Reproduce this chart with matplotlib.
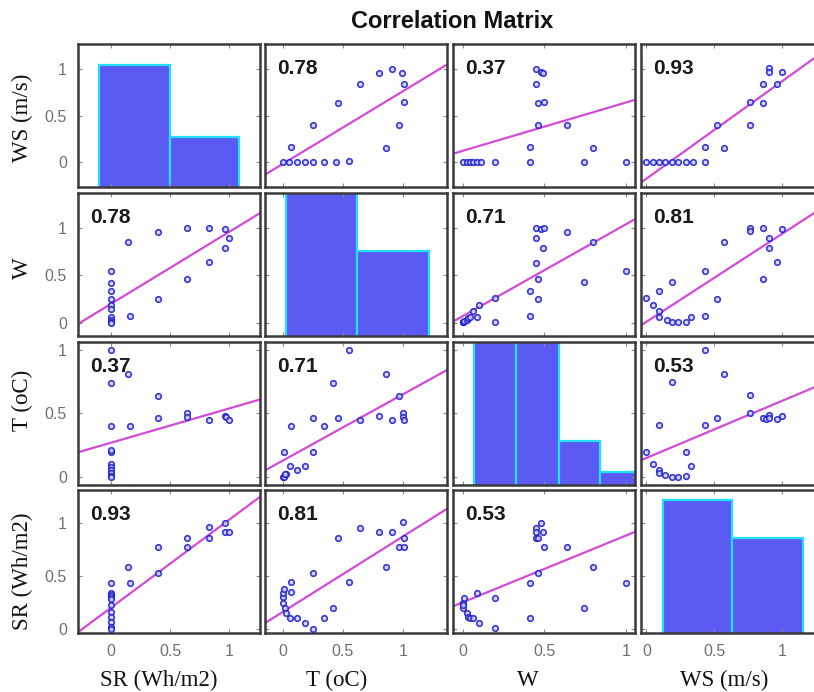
import numpy as np
import matplotlib
matplotlib.use("Agg")
import matplotlib.pyplot as plt

# Nazwy zmiennych (wiersze od góry, kolumny od lewej)
row_names = ["WS (m/s)", "W", "T (oC)", "SR (Wh/m2)"]
col_names = ["SR (Wh/m2)", "T (oC)", "W", "WS (m/s)"]

# --- dane punktowe ---
# wiersz WS
ws_t_x = [0, 0.05, 0.12, 0.18, 0.25, 0.34, 0.44, 0.55, 0.07, 0.25, 0.46, 0.64, 0.80, 0.91, 0.99, 1.01, 1.01, 0.97, 0.86]
ws_t_y = [0, 0, 0, 0, 0, 0, 0, 0.01, 0.16, 0.40, 0.64, 0.84, 0.96, 1.0, 0.96, 0.84, 0.65, 0.40, 0.15]
ws_w_x = [0, 0.025, 0.045, 0.06, 0.085, 0.11, 0.20, 0.41, 0.41, 0.45, 0.48, 0.49, 0.45, 0.46, 0.50, 0.46, 0.64, 0.74, 0.80, 1.0]
ws_w_y = [0, 0, 0, 0, 0, 0, 0, 0, 0.16, 1.0, 0.97, 0.96, 0.84, 0.64, 0.65, 0.40, 0.40, 0, 0.15, 0]
ws_ws_x = [0, 0.045, 0.09, 0.14, 0.19, 0.235, 0.29, 0.34, 0.43, 0.43, 0.57, 0.52, 0.76, 0.76, 0.86, 0.86, 0.90, 0.90, 0.96, 1.0]
ws_ws_y = [0, 0, 0, 0, 0, 0, 0, 0, 0, 0.16, 0.15, 0.40, 0.40, 0.65, 0.64, 0.84, 1.01, 0.97, 0.84, 0.97]

# wiersz W
w_sr_x = [0, 0, 0, 0, 0, 0, 0, 0, 0, 0, 0.145, 0.16, 0.40, 0.40, 0.64, 0.64, 0.83, 0.83, 0.96, 0.96, 1.0]
w_sr_y = [0.55, 0.42, 0.34, 0.25, 0.19, 0.14, 0.06, 0.03, 0.01, 0, 0.85, 0.07, 0.96, 0.25, 0.46, 1.0, 1.0, 0.64, 0.99, 0.79, 0.89]
w_w_x = [0, 0, 0.01, 0.025, 0.03, 0.045, 0.06, 0.09, 0.10, 0.20, 0.20, 0.41, 0.41, 0.46, 0.46, 0.45, 0.49, 0.45, 0.45, 0.48, 0.50, 0.64, 0.80, 0.74, 1.0]
w_w_y = [0.01, 0.01, 0.02, 0.03, 0.05, 0.06, 0.12, 0.06, 0.19, 0.01, 0.26, 0.07, 0.34, 0.25, 0.46, 0.63, 0.79, 0.89, 1.0, 0.99, 1.0, 0.96, 0.85, 0.43, 0.55]
w_ws_x = [0, 0.045, 0.095, 0.095, 0.095, 0.15, 0.19, 0.235, 0.29, 0.33, 0.19, 0.43, 0.43, 0.52, 0.57, 0.76, 0.76, 0.86, 0.90, 0.90, 0.96, 0.86, 1.0]
w_ws_y = [0.26, 0.19, 0.12, 0.06, 0.34, 0.03, 0.01, 0.01, 0.01, 0.06, 0.43, 0.07, 0.55, 0.25, 0.85, 1.0, 0.97, 1.0, 0.89, 0.79, 0.64, 0.46, 0.99]

# wiersz T
t_sr_x = [0, 0, 0, 0, 0, 0, 0, 0, 0, 0, 0, 0.145, 0.16, 0.40, 0.40, 0.64, 0.64, 0.83, 0.96, 0.97, 1.0]
t_sr_y = [1.0, 0.74, 0.40, 0.20, 0.21, 0.10, 0.08, 0.055, 0.03, 0.01, 0, 0.81, 0.40, 0.64, 0.465, 0.50, 0.47, 0.45, 0.48, 0.47, 0.45]
t_t_x = [0, 0.01, 0.025, 0.02, 0.06, 0.12, 0.18, 0.07, 0.01, 0.25, 0.25, 0.34, 0.42, 0.46, 0.55, 0.64, 0.80, 0.86, 0.91, 0.97, 1.0, 1.0, 1.01]
t_t_y = [0, 0, 0.02, 0.025, 0.09, 0.055, 0.09, 0.40, 0.20, 0.465, 0.20, 0.40, 0.74, 0.465, 1.0, 0.45, 0.48, 0.81, 0.45, 0.64, 0.50, 0.47, 0.45]
t_ws_x = [0, 0.045, 0.095, 0.095, 0.14, 0.19, 0.235, 0.29, 0.33, 0.29, 0.095, 0.19, 0.43, 0.43, 0.52, 0.57, 0.76, 0.76, 0.86, 0.88, 0.90, 0.90, 0.96, 1.0]
t_ws_y = [0.20, 0.10, 0.055, 0.03, 0.015, 0, 0, 0.01, 0.09, 0.20, 0.41, 0.75, 1.0, 0.41, 0.465, 0.81, 0.645, 0.50, 0.465, 0.46, 0.49, 0.465, 0.46, 0.48]

# wiersz SR
sr_sr_x = [0, 0, 0, 0, 0, 0, 0, 0, 0, 0, 0, 0.145, 0.16, 0.40, 0.40, 0.64, 0.64, 0.83, 0.83, 0.96, 0.96, 1.0]
sr_sr_y = [0.43, 0.34, 0.32, 0.30, 0.28, 0.22, 0.16, 0.11, 0.065, 0.02, 0, 0.58, 0.43, 0.77, 0.53, 0.86, 0.77, 0.96, 0.86, 1.0, 0.91, 0.91]
sr_t_x = [0, 0, 0, 0.01, 0.02, 0.025, 0.06, 0.12, 0.07, 0.07, 0.18, 0.25, 0.25, 0.34, 0.42, 0.55, 0.46, 0.64, 0.80, 0.91, 0.86, 1.0, 0.97, 1.01, 1.01]
sr_t_y = [0.24, 0.30, 0.34, 0.38, 0.20, 0.15, 0.10, 0.10, 0.345, 0.44, 0.055, 0, 0.53, 0.10, 0.20, 0.44, 0.86, 0.95, 0.91, 0.91, 0.58, 1.01, 0.77, 0.77, 0.86]
sr_w_x = [0, 0, 0.01, 0, 0.025, 0.03, 0.045, 0.06, 0.10, 0.09, 0.20, 0.20, 0.41, 0.41, 0.46, 0.45, 0.45, 0.45, 0.48, 0.49, 0.46, 0.50, 0.64, 0.80, 0.74, 1.0]
sr_w_y = [0.20, 0.24, 0.29, 0.22, 0.15, 0.11, 0.10, 0.10, 0.055, 0.34, 0.29, 0.01, 0.10, 0.43, 0.53, 0.95, 0.91, 0.86, 1.0, 0.91, 0.86, 0.77, 0.77, 0.58, 0.20, 0.43]

# współczynniki korelacji (tekst) i proste regresji (wyraz wolny, nachylenie)
corr_labels = ["0.78", "0.37", "0.93", "0.78", "0.71", "0.81", "0.37", "0.71", "0.53", "0.93", "0.81", "0.53"]
fit_intercepts = [-0.02, 0.12, -0.18, 0.20, 0.07, 0.01, 0.27, 0.13, 0.15, 0.20, 0.16, 0.25]
fit_slopes = [0.78, 0.52, 1.05, 0.76, 0.97, 0.93, 0.27, 0.52, 0.45, 0.83, 0.71, 0.63]

# histogramy na przekątnej (krawędzie przedziałów i wysokości słupków)
hist_ws_edges = [-0.10, 0.50, 1.08]
hist_ws_tops = [1.04, 0.27]
hist_w_edges = [0.025, 0.62, 1.22]
hist_w_tops = [1.5, 0.76]
hist_t_edges = [0.067, 0.325, 0.59, 0.84, 1.10]
hist_t_tops = [1.2, 1.2, 0.28, 0.04]
hist_sr_edges = [0.12, 0.63, 1.15]
hist_sr_tops = [1.22, 0.86]

# --- zestawienie paneli ---
scatter_panels = {
    (0, 1): (ws_t_x, ws_t_y), (0, 2): (ws_w_x, ws_w_y), (0, 3): (ws_ws_x, ws_ws_y),
    (1, 0): (w_sr_x, w_sr_y), (1, 2): (w_w_x, w_w_y), (1, 3): (w_ws_x, w_ws_y),
    (2, 0): (t_sr_x, t_sr_y), (2, 1): (t_t_x, t_t_y), (2, 3): (t_ws_x, t_ws_y),
    (3, 0): (sr_sr_x, sr_sr_y), (3, 1): (sr_t_x, sr_t_y), (3, 2): (sr_w_x, sr_w_y),
}
hist_panels = {
    (0, 0): (hist_ws_edges, hist_ws_tops), (1, 1): (hist_w_edges, hist_w_tops),
    (2, 2): (hist_t_edges, hist_t_tops), (3, 3): (hist_sr_edges, hist_sr_tops),
}

W, H = 814, 692
col_left = [78, 265, 453, 641]
row_top = [44, 193, 342, 490]
pw, ph = 182, 143
col_xlim = [(-0.28, 1.26), (-0.15, 1.37), (-0.06, 1.055), (-0.04, 1.30)]
row_ylim = [(-0.27, 1.27), (-0.14, 1.37), (-0.063, 1.063), (-0.04, 1.31)]

bar_face = "#5b5bf3"
bar_edge = "#22e0ff"
line_col = "#d24bd6"
frame_col = "#3a3a3a"
tick_txt = "#707070"

fig = plt.figure(figsize=(W / 100, H / 100), dpi=100)

k = 0
for r in range(4):
    for c in range(4):
        ax = fig.add_axes([col_left[c] / W, 1 - (row_top[r] + ph) / H, pw / W, ph / H])
        ax.set_xlim(col_xlim[c])
        ax.set_ylim(row_ylim[r])
        if (r, c) in hist_panels:
            edges, tops = hist_panels[(r, c)]
            bottom = row_ylim[r][0] - 0.05
            ax.bar(edges[:-1], np.array(tops) - bottom, width=np.diff(edges), bottom=bottom,
                   align="edge", color=bar_face, edgecolor=bar_edge, linewidth=1.6)
        else:
            xs, ys = scatter_panels[(r, c)]
            ax.scatter(xs, ys, s=16, facecolors="#cfcfff", edgecolors="#1a1acc",
                       linewidths=1.2, alpha=0.85, zorder=3)
            lx = np.array(col_xlim[c])
            ax.plot(lx, fit_intercepts[k] + fit_slopes[k] * lx, color=line_col, lw=1.6, zorder=2)
            ax.text(0.066, 0.83, corr_labels[k], transform=ax.transAxes, ha="left", va="center",
                    fontsize=15, fontweight="bold", family="Liberation Sans", color="#1a1a1a", zorder=5)
            k += 1

        ax.set_xticks([0, 0.5, 1])
        ax.set_yticks([0, 0.5, 1])
        ax.set_xticklabels(["0", "0.5", "1"])
        ax.set_yticklabels(["0", "0.5", "1"])
        ax.tick_params(direction="in", length=3, width=0.8, color="#888888",
                       top=True, right=True, labelsize=11.5, labelcolor=tick_txt, pad=8,
                       labelleft=(c == 0), labelbottom=(r == 3))
        for lab in ax.get_xticklabels() + ax.get_yticklabels():
            lab.set_family("Liberation Sans")
        for sp in ax.spines.values():
            sp.set_color(frame_col)
            sp.set_linewidth(1.8)

# Tytuł i opisy osi
fig.text(452 / W, 1 - 21 / H, "Correlation Matrix", ha="center", va="center",
         fontsize=17, fontweight="bold", family="Liberation Sans", color="#111111")

ylab_y = [118, 268, 400, 571]
for name, yy in zip(row_names, ylab_y):
    fig.text(22 / W, 1 - yy / H, name, rotation=90, ha="center", va="center",
             fontsize=16.5, family="Liberation Serif", color="#111111")

xlab_x = [159, 337, 528, 724]
for name, xx in zip(col_names, xlab_x):
    fig.text(xx / W, 1 - 680 / H, name, ha="center", va="center",
             fontsize=16.5, family="Liberation Serif", color="#111111")

fig.savefig("out.png", dpi=100)
